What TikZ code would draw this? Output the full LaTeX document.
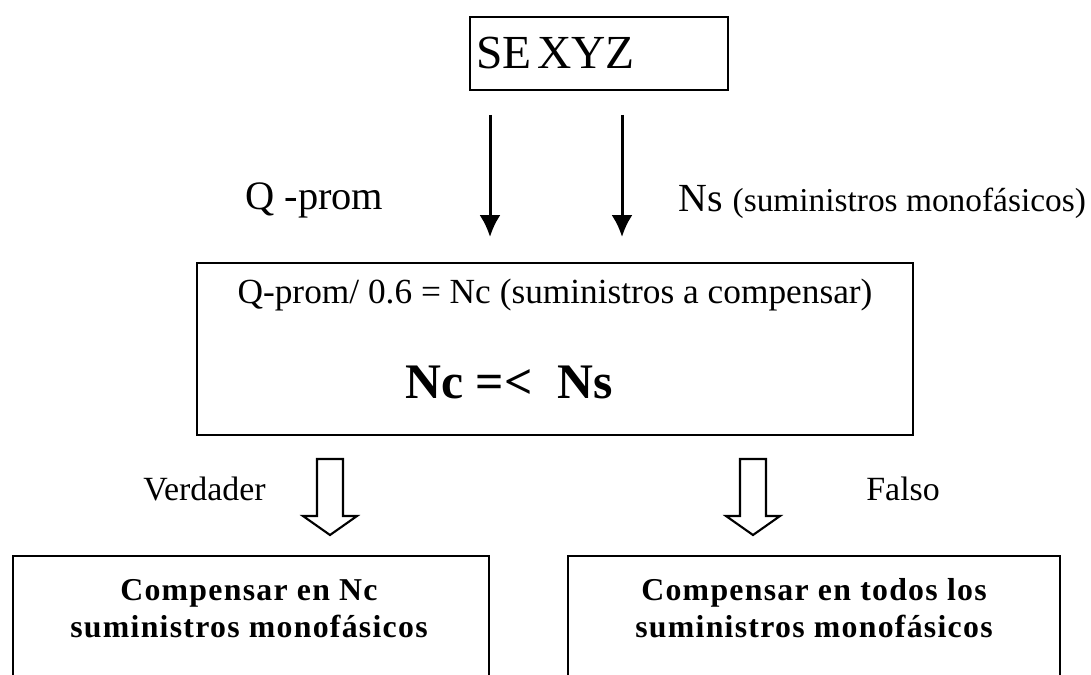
\documentclass[tikz,border=0pt]{standalone}
\usepackage{fontspec}
\setmainfont{Liberation Serif}
\newfontfamily\spacedbf[LetterSpace=4]{Liberation Serif Bold}
\usetikzlibrary{calc}
\usetikzlibrary{arrows.meta}
\tikzstyle{arrow} = [line width=1.7pt,-{Latex[length=12.5pt,width=12pt]}]
\tikzstyle{box} = [draw,line width=1.2pt,inner sep=0pt]
\tikzstyle{hollow} = [draw,line width=1.2pt,fill=white]
\tikzstyle{lbl} = [inner sep=0pt]
\tikzstyle{result} = [lbl,align=center,font=\fontsize{18.1}{20.5}\selectfont\spacedbf]

\begin{document}
\begin{tikzpicture}[x=0.02cm,y=-0.02cm]
\clip (0,0) rectangle (1091,675);
\fill[white] (0,0) rectangle (1091,675);

\coordinate (QA) at (490,115);
\coordinate (QB) at (490,237);
\coordinate (NA) at (622,115);
\coordinate (NB) at (622,237);

\node[box,minimum height=1.46cm,text width=4.92cm,inner xsep=0.12cm,align=left] (SE) at (599,53.5) {\fontsize{27}{30}\selectfont SE XYZ};
\node[box,minimum width=14.32cm,minimum height=3.44cm] (CALC) at (555,349) {};
\node[lbl,anchor=base] (EQ) at (555,303) {\fontsize{20.1}{24}\selectfont Q-prom/ 0.6 = Nc (suministros a compensar)};
\node[lbl,anchor=base] (COND) at (509,398) {\fontsize{28.3}{32}\selectfont\bfseries Nc =<\ \ Ns};

\node[box,minimum width=9.52cm,minimum height=2.88cm] (YES) at (251,628) {};
\node[box,minimum width=9.84cm,minimum height=2.88cm] (NO) at (814,628) {};
\node[result,anchor=base] (YEST) at (249,637) {Compensar en Nc\\ suministros monof\'asicos};
\node[result,anchor=base] (NOT) at (814,637) {Compensar en todos los\\ suministros monof\'asicos};

\draw [arrow] (QA) -- (QB);
\draw [arrow] (NA) -- (NB);
\node[lbl,anchor=base west] (QL) at (245,210) {\fontsize{23}{26}\selectfont Q -prom};
\node[lbl,anchor=base west] (NL) at (678,212) {\fontsize{22.7}{26}\selectfont Ns \fontsize{19}{22}\selectfont(suministros monof\'asicos)};

% flechas huecas
\foreach \c in {330,753}
  \draw[hollow] (\c-13,459) -- (\c+13,459) -- (\c+13,516) -- (\c+27,516) -- (\c,535) -- (\c-27,516) -- (\c-13,516) -- cycle;
\node[lbl,anchor=base east] (VL) at (266,500) {\fontsize{19.3}{22}\selectfont Verdader};
\node[lbl,anchor=base west] (FL) at (866,500) {\fontsize{19.3}{22}\selectfont Falso};

\end{tikzpicture}
\end{document}
